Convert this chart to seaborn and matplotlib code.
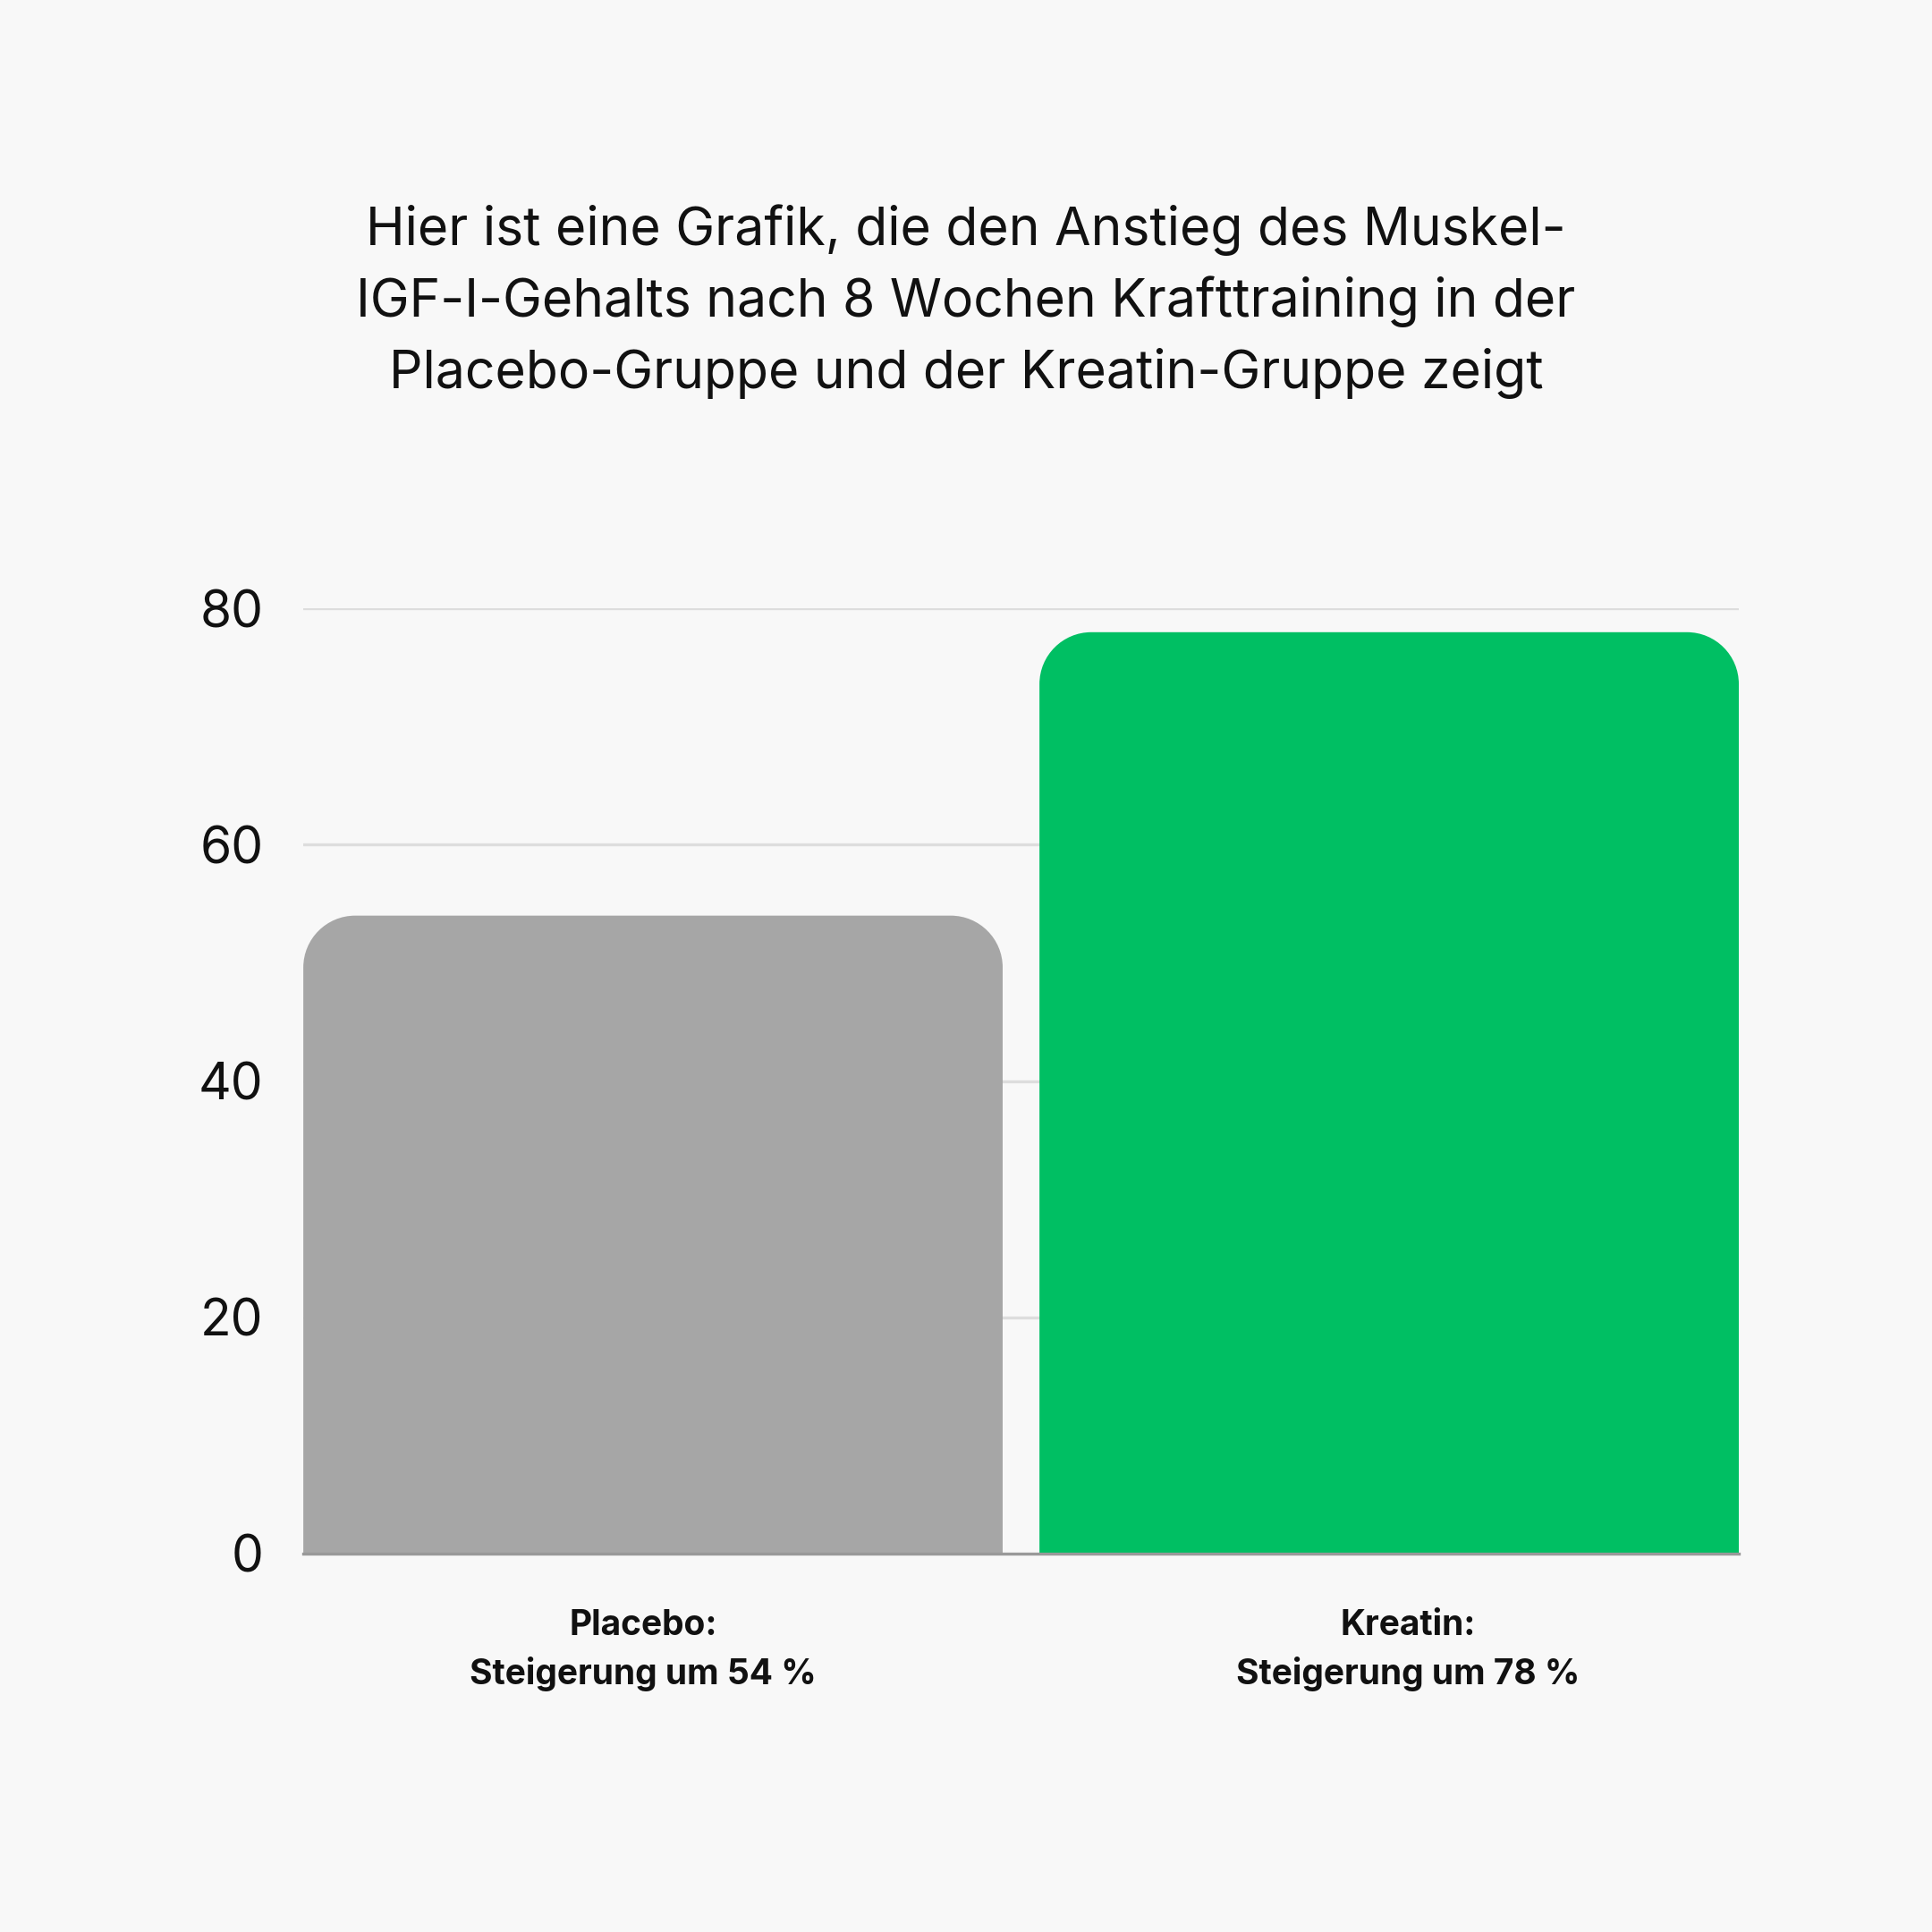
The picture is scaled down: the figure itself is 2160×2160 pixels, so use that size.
import matplotlib
matplotlib.use("Agg")
import matplotlib.pyplot as plt
import matplotlib.transforms as mtransforms
import seaborn as sns
import pandas as pd
from matplotlib.path import Path
from matplotlib.patches import PathPatch

categories = ["Placebo:\nSteigerung um 54 %", "Kreatin:\nSteigerung um 78 %"]
values = [54, 78]
colors = ["#A6A6A6", "#00BF63"]
yticks = [0, 20, 40, 60, 80]
title = ("Hier ist eine Grafik, die den Anstieg des Muskel-\n"
         "IGF-I-Gehalts nach 8 Wochen Krafttraining in der\n"
         "Placebo-Gruppe und der Kreatin-Gruppe zeigt")

df = pd.DataFrame({"cat": categories, "val": values})

sns.set_theme(style="white")
plt.rcParams["font.family"] = ["Inter", "DejaVu Sans"]
BG = "#F8F8F8"

fig = plt.figure(figsize=(10.8, 10.8), dpi=200, facecolor=BG)
ax = fig.add_axes([0.157, 0.196, 0.743, 0.489])
ax.set_facecolor(BG)

W = 0.95
sns.barplot(data=df, x="cat", y="val", hue="cat", palette=colors, width=W,
            legend=False, ax=ax, zorder=3, saturation=1)

ax.set_xlim(-W / 2, 1 + W / 2)
ax.set_ylim(0, 80)
ax.set_yticks(yticks)
ax.set_yticklabels([str(t) for t in yticks])
ax.yaxis.grid(True, color="#DDDDDD", linewidth=1.2, zorder=0)
ax.set_axisbelow(True)
for s in ["top", "right", "left"]:
    ax.spines[s].set_visible(False)
ax.spines["bottom"].set_color("#999999")
ax.spines["bottom"].set_linewidth(1.2)
ax.spines["bottom"].set_zorder(4)
ax.tick_params(axis="y", length=0, pad=16, labelsize=20.5, labelcolor="#111111")
ax.tick_params(axis="x", length=0, pad=22.5, labelsize=14, labelcolor="#111111")
shifts = [-11, 21]  # small horizontal label nudges in pixels
for lab, dx in zip(ax.get_xticklabels(), shifts):
    lab.set_fontweight("bold")
    lab.set_linespacing(1.5)
    lab.set_transform(lab.get_transform() +
                      mtransforms.Affine2D().translate(dx, 0))
ax.set_xlabel("")
ax.set_ylabel("")

# rounded top corners
fig.canvas.draw()
inv = ax.transData.inverted()
p0 = inv.transform((0, 0))
p1 = inv.transform((58, 58))
rx = p1[0] - p0[0]
ry = p1[1] - p0[1]
k = 0.5523
for patch in list(ax.patches):
    x0 = patch.get_x(); w = patch.get_width()
    y0 = patch.get_y(); h = patch.get_height()
    fc = patch.get_facecolor()
    x1 = x0 + w; y1 = y0 + h
    verts = [
        (x0, y0), (x0, y1 - ry),
        (x0, y1 - ry + k * ry), (x0 + rx - k * rx, y1), (x0 + rx, y1),
        (x1 - rx, y1),
        (x1 - rx + k * rx, y1), (x1, y1 - ry + k * ry), (x1, y1 - ry),
        (x1, y0), (x0, y0),
    ]
    codes = [Path.MOVETO, Path.LINETO,
             Path.CURVE4, Path.CURVE4, Path.CURVE4,
             Path.LINETO,
             Path.CURVE4, Path.CURVE4, Path.CURVE4,
             Path.LINETO, Path.CLOSEPOLY]
    patch.remove()
    ax.add_patch(PathPatch(Path(verts, codes), facecolor=fc, edgecolor="none", zorder=3))

fig.text(0.5, 0.844, title, ha="center", va="center", fontsize=21.2,
         color="#111111", linespacing=1.5)

fig.savefig("out.png", dpi=200, facecolor=BG)
